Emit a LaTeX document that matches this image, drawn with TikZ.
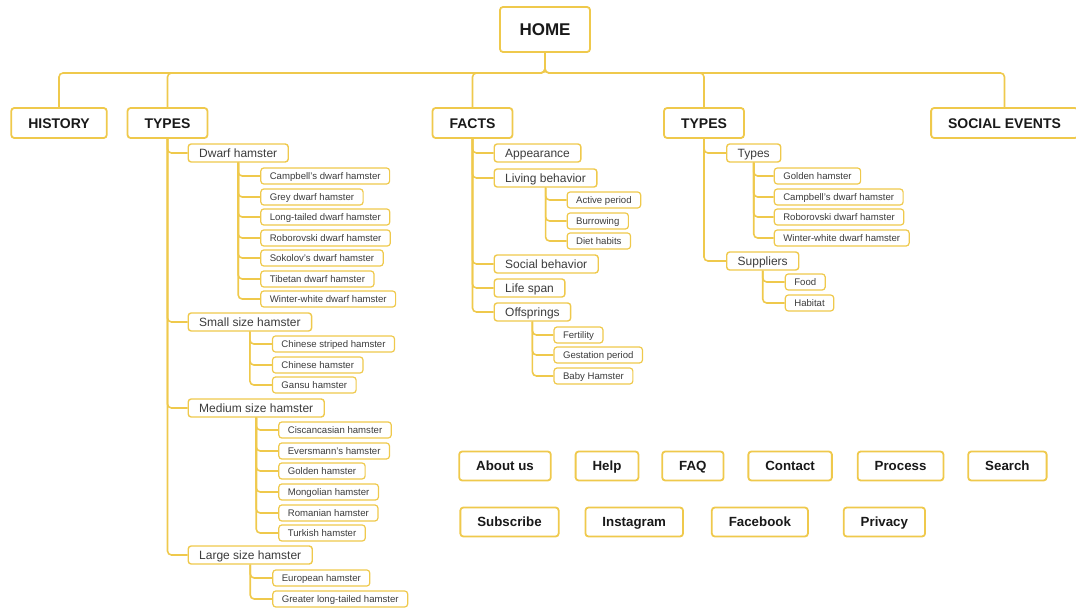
\documentclass[tikz,border=0pt]{standalone}
\usepackage{fontspec}
\setmainfont{Liberation Sans}
\usetikzlibrary{positioning}
\definecolor{hamyellow}{HTML}{EFC94C}
\definecolor{hamtext}{HTML}{3C3C3C}
\tikzset{
  box/.style={draw=hamyellow, rounded corners=3pt, fill=white, inner ysep=0pt, text depth=0pt},
  top/.style={box, line width=1.8pt, minimum height=30pt, inner xsep=17pt, text height=10pt, font=\fontsize{14}{16}\selectfont\bfseries, text=black!90},
  sub/.style={box, line width=1.4pt, minimum height=18pt, inner xsep=11pt, text height=8.6pt, anchor=west, font=\fontsize{12}{14}\selectfont, text=hamtext},
  leaf/.style={box, line width=1.2pt, minimum height=16pt, inner xsep=9pt, text height=6.9pt, anchor=west, font=\fontsize{9.6}{11}\selectfont, text=hamtext},
  btn/.style={top, text height=9.5pt, font=\fontsize{13.3}{15}\selectfont\bfseries, minimum height=29pt},
  link/.style={draw=hamyellow, line width=1.6pt, rounded corners=4pt},
  branch/.style={link, to path={|- (\tikztotarget)}},
  trunk/.style={link, to path={-- (bus) -| (\tikztotarget)}}
}

\begin{document}
\begin{tikzpicture}[x=1pt,y=-1pt]
\useasboundingbox (0,0) rectangle (1076,610);

% top level
\node[top, minimum width=90pt, minimum height=45pt, text height=12.2pt, font=\fontsize{17}{19}\selectfont\bfseries] (home) at (545,29.5) {HOME};
\coordinate (bus) at (545,73);
\node[top] (history) at (59,123) {HISTORY};
\node[top] (types) at (167.5,123) {TYPES};
\node[top] (facts) at (472.5,123) {FACTS};
\node[top] (shop) at (704,123) {TYPES};
\node[top] (social) at (1004.5,123) {SOCIAL EVENTS};

% types
\node[sub, xshift=20pt] (dwarf) at (types.south |- 0,153) {Dwarf hamster};
\node[sub, xshift=20pt] (small) at (types.south |- 0,322) {Small size hamster};
\node[sub, xshift=20pt] (medium) at (types.south |- 0,408) {Medium size hamster};
\node[sub, xshift=20pt] (large) at (types.south |- 0,555) {Large size hamster};

\node[leaf, xshift=22pt] (campbell) at (dwarf.south |- 0,176) {Campbell's dwarf hamster};
\node[leaf, xshift=22pt] (grey) at (dwarf.south |- 0,197) {Grey dwarf hamster};
\node[leaf, xshift=22pt] (longtailed) at (dwarf.south |- 0,217) {Long-tailed dwarf hamster};
\node[leaf, xshift=22pt] (roborovski) at (dwarf.south |- 0,238) {Roborovski dwarf hamster};
\node[leaf, xshift=22pt] (sokolov) at (dwarf.south |- 0,258) {Sokolov's dwarf hamster};
\node[leaf, xshift=22pt] (tibetan) at (dwarf.south |- 0,279) {Tibetan dwarf hamster};
\node[leaf, xshift=22pt] (winterwhite) at (dwarf.south |- 0,299) {Winter-white dwarf hamster};

\node[leaf, xshift=22pt] (striped) at (small.south |- 0,344) {Chinese striped hamster};
\node[leaf, xshift=22pt] (chinese) at (small.south |- 0,365) {Chinese hamster};
\node[leaf, xshift=22pt] (gansu) at (small.south |- 0,385) {Gansu hamster};

\node[leaf, xshift=22pt] (ciscan) at (medium.south |- 0,430) {Ciscancasian hamster};
\node[leaf, xshift=22pt] (eversmann) at (medium.south |- 0,451) {Eversmann's hamster};
\node[leaf, xshift=22pt] (golden) at (medium.south |- 0,471) {Golden hamster};
\node[leaf, xshift=22pt] (mongolian) at (medium.south |- 0,492) {Mongolian hamster};
\node[leaf, xshift=22pt] (romanian) at (medium.south |- 0,513) {Romanian hamster};
\node[leaf, xshift=22pt] (turkish) at (medium.south |- 0,533) {Turkish hamster};

\node[leaf, xshift=22pt] (european) at (large.south |- 0,578) {European hamster};
\node[leaf, xshift=22pt] (greater) at (large.south |- 0,599) {Greater long-tailed hamster};

% facts
\node[sub, xshift=21pt] (appearance) at (facts.south |- 0,153) {Appearance};
\node[sub, xshift=21pt] (living) at (facts.south |- 0,178) {Living behavior};
\node[sub, xshift=21pt] (socbeh) at (facts.south |- 0,264) {Social behavior};
\node[sub, xshift=21pt] (lifespan) at (facts.south |- 0,288) {Life span};
\node[sub, xshift=21pt] (offsprings) at (facts.south |- 0,312) {Offsprings};

\node[leaf, xshift=21pt] (active) at (living.south |- 0,200) {Active period};
\node[leaf, xshift=21pt] (burrowing) at (living.south |- 0,221) {Burrowing};
\node[leaf, xshift=21pt] (diet) at (living.south |- 0,241) {Diet habits};

\node[leaf, xshift=21pt] (fertility) at (offsprings.south |- 0,335) {Fertility};
\node[leaf, xshift=21pt] (gestation) at (offsprings.south |- 0,355) {Gestation period};
\node[leaf, xshift=21pt] (baby) at (offsprings.south |- 0,376) {Baby Hamster};

% second types
\node[sub, xshift=22pt] (kinds) at (shop.south |- 0,153) {Types};
\node[sub, xshift=22pt] (suppliers) at (shop.south |- 0,261) {Suppliers};

\node[leaf, xshift=20pt] (goldenb) at (kinds.south |- 0,176) {Golden hamster};
\node[leaf, xshift=20pt] (campbellb) at (kinds.south |- 0,197) {Campbell's dwarf hamster};
\node[leaf, xshift=20pt] (roborovskib) at (kinds.south |- 0,217) {Roborovski dwarf hamster};
\node[leaf, xshift=20pt] (winterb) at (kinds.south |- 0,238) {Winter-white dwarf hamster};

\node[leaf, xshift=22pt] (food) at (suppliers.south |- 0,282) {Food};
\node[leaf, xshift=22pt] (habitat) at (suppliers.south |- 0,303) {Habitat};

% footer links
\node[btn] (about) at (505,466) {About us};
\node[btn, right=23pt of about] (help) {Help};
\node[btn, right=22pt of help] (faq) {FAQ};
\node[btn, right=23pt of faq] (contact) {Contact};
\node[btn, right=24pt of contact] (process) {Process};
\node[btn, right=23pt of process] (search) {Search};
\node[btn] (subscribe) at (509.5,522) {Subscribe};
\node[btn, right=25pt of subscribe] (instagram) {Instagram};
\node[btn, right=27pt of instagram] (facebook) {Facebook};
\node[btn, right=34pt of facebook] (privacy) {Privacy};

\path
(home.south) edge [trunk] (history.north)
(home.south) edge [trunk] (types.north)
(home.south) edge [trunk] (facts.north)
(home.south) edge [trunk] (shop.north)
(home.south) edge [trunk] (social.north)
(types.south) edge [branch] (dwarf.west)
(types.south) edge [branch] (small.west)
(types.south) edge [branch] (medium.west)
(types.south) edge [branch] (large.west)
(dwarf.south) edge [branch] (campbell.west)
(dwarf.south) edge [branch] (grey.west)
(dwarf.south) edge [branch] (longtailed.west)
(dwarf.south) edge [branch] (roborovski.west)
(dwarf.south) edge [branch] (sokolov.west)
(dwarf.south) edge [branch] (tibetan.west)
(dwarf.south) edge [branch] (winterwhite.west)
(small.south) edge [branch] (striped.west)
(small.south) edge [branch] (chinese.west)
(small.south) edge [branch] (gansu.west)
(medium.south) edge [branch] (ciscan.west)
(medium.south) edge [branch] (eversmann.west)
(medium.south) edge [branch] (golden.west)
(medium.south) edge [branch] (mongolian.west)
(medium.south) edge [branch] (romanian.west)
(medium.south) edge [branch] (turkish.west)
(large.south) edge [branch] (european.west)
(large.south) edge [branch] (greater.west)
(facts.south) edge [branch] (appearance.west)
(facts.south) edge [branch] (living.west)
(facts.south) edge [branch] (socbeh.west)
(facts.south) edge [branch] (lifespan.west)
(facts.south) edge [branch] (offsprings.west)
(living.south) edge [branch] (active.west)
(living.south) edge [branch] (burrowing.west)
(living.south) edge [branch] (diet.west)
(offsprings.south) edge [branch] (fertility.west)
(offsprings.south) edge [branch] (gestation.west)
(offsprings.south) edge [branch] (baby.west)
(shop.south) edge [branch] (kinds.west)
(shop.south) edge [branch] (suppliers.west)
(kinds.south) edge [branch] (goldenb.west)
(kinds.south) edge [branch] (campbellb.west)
(kinds.south) edge [branch] (roborovskib.west)
(kinds.south) edge [branch] (winterb.west)
(suppliers.south) edge [branch] (food.west)
(suppliers.south) edge [branch] (habitat.west);
\end{tikzpicture}
\end{document}
